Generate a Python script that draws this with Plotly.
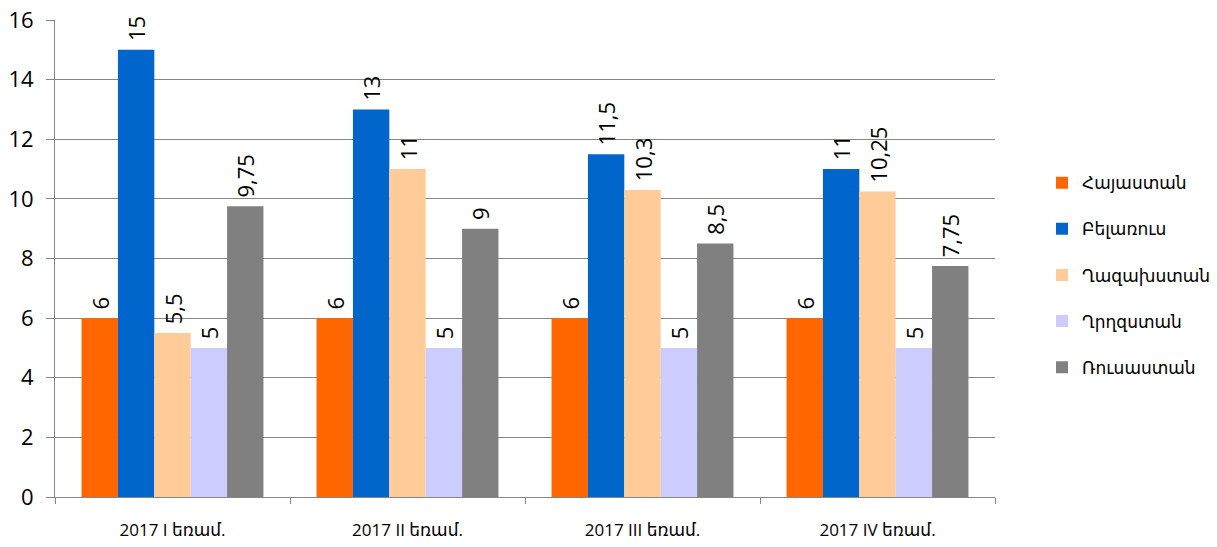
import plotly.graph_objects as go

categories = ["2017 I եռամ.", "2017 II եռամ.", "2017 III եռամ.", "2017 IV եռամ."]
series_names = ["Հայաստան", "Բելառուս", "Ղազախստան", "Ղրղզստան", "Ռուսաստան"]
armenia = [6, 6, 6, 6]
belarus = [15, 13, 11.5, 11]
kazakhstan = [5.5, 11, 10.3, 10.25]
kyrgyzstan = [5, 5, 5, 5]
russia = [9.75, 9, 8.5, 7.75]
colors = ["#FF6600", "#0066CC", "#FFCC99", "#CCCCFF", "#808080"]
y_ticks = [0, 2, 4, 6, 8, 10, 12, 14, 16]

FONT = "Open Sans, DejaVu Sans, sans-serif"

def fmt(v):
    return "\u00a0" + ("%g" % v).replace(".", ",")

fig = go.Figure()
for name, vals, col in zip(series_names, [armenia, belarus, kazakhstan, kyrgyzstan, russia], colors):
    fig.add_trace(go.Bar(
        x=categories, y=vals, name=name, legendgroup=name,
        marker=dict(color=col, line=dict(width=0)),
        text=[fmt(v) for v in vals], textposition="outside", textangle=-90,
        constraintext="none",
        textfont=dict(family=FONT, size=22, color="#000000"),
        cliponaxis=False,
    ))

fig.update_layout(
    width=1217, height=547,
    margin=dict(l=55, r=222, t=20, b=50, autoexpand=False),
    paper_bgcolor="white", plot_bgcolor="white",
    barmode="group", bargap=0.226, bargroupgap=0,
    font=dict(family=FONT, color="#000000"),
    showlegend=True,
    legend=dict(x=1.05, y=0.465, xanchor="left", yanchor="middle",
                font=dict(family=FONT, size=17, color="#000000"),
                tracegroupgap=21, itemwidth=30),
)
fig.update_xaxes(
    automargin=False,
    showline=True, linecolor="#868686", linewidth=1,
    ticks="outside", tickson="boundaries", ticklen=6, tickcolor="#868686",
    tickfont=dict(family=FONT, size=17, color="#000000"),
    ticklabelstandoff=18,
    ticklabeloverflow="allow",
    showgrid=False,
)
fig.update_yaxes(
    automargin=False,
    range=[0, 16], tickvals=y_ticks,
    showline=True, linecolor="#868686", linewidth=1,
    ticks="outside", ticklen=8, tickcolor="#868686",
    showgrid=True, gridcolor="#868686", gridwidth=1,
    tickfont=dict(family=FONT, size=22, color="#000000"),
    ticklabelstandoff=8,
    ticklabeloverflow="allow",
    zeroline=False,
)
fig.write_html("out.html", config={"displayModeBar": False},
               post_script="document.body.style.margin='0';document.body.style.overflow='hidden';")
